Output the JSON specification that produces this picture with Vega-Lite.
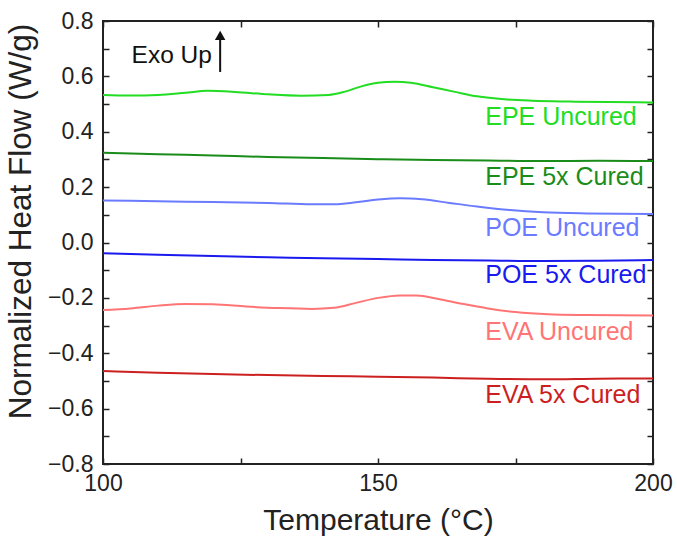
{
  "$schema": "https://vega.github.io/schema/vega-lite/v6.json",
  "width": 550,
  "height": 443,
  "autosize": "none",
  "padding": {"left": 103, "top": 21, "right": 24, "bottom": 80},
  "background": "white",
  "config": {
    "font": "Liberation Sans",
    "view": {"stroke": "#222", "strokeWidth": 2},
    "axis": {"domain": false, "grid": false, "tickColor": "#222", "tickWidth": 1.5, "labelColor": "#222", "titleColor": "#222", "labelFont": "Liberation Sans", "titleFont": "Liberation Sans", "titleFontWeight": "normal"}
  },
  "datasets": {
    "curves": [
      {"s": "EPE Uncured", "T": 100, "v": 0.533}, {"s": "EPE Uncured", "T": 105, "v": 0.531}, {"s": "EPE Uncured", "T": 110, "v": 0.533}, {"s": "EPE Uncured", "T": 115, "v": 0.541}, {"s": "EPE Uncured", "T": 119, "v": 0.548}, {"s": "EPE Uncured", "T": 124, "v": 0.544}, {"s": "EPE Uncured", "T": 130, "v": 0.535}, {"s": "EPE Uncured", "T": 136, "v": 0.530}, {"s": "EPE Uncured", "T": 141, "v": 0.533}, {"s": "EPE Uncured", "T": 144, "v": 0.545}, {"s": "EPE Uncured", "T": 147, "v": 0.564}, {"s": "EPE Uncured", "T": 150, "v": 0.577}, {"s": "EPE Uncured", "T": 153, "v": 0.581}, {"s": "EPE Uncured", "T": 156, "v": 0.577}, {"s": "EPE Uncured", "T": 160, "v": 0.561}, {"s": "EPE Uncured", "T": 164, "v": 0.544}, {"s": "EPE Uncured", "T": 168, "v": 0.528}, {"s": "EPE Uncured", "T": 173, "v": 0.517}, {"s": "EPE Uncured", "T": 178, "v": 0.512}, {"s": "EPE Uncured", "T": 185, "v": 0.509}, {"s": "EPE Uncured", "T": 192, "v": 0.507}, {"s": "EPE Uncured", "T": 200, "v": 0.506},
      {"s": "EPE 5x Cured", "T": 100, "v": 0.324}, {"s": "EPE 5x Cured", "T": 110, "v": 0.319}, {"s": "EPE 5x Cured", "T": 120, "v": 0.314}, {"s": "EPE 5x Cured", "T": 130, "v": 0.309}, {"s": "EPE 5x Cured", "T": 140, "v": 0.305}, {"s": "EPE 5x Cured", "T": 150, "v": 0.301}, {"s": "EPE 5x Cured", "T": 160, "v": 0.298}, {"s": "EPE 5x Cured", "T": 170, "v": 0.296}, {"s": "EPE 5x Cured", "T": 180, "v": 0.294}, {"s": "EPE 5x Cured", "T": 190, "v": 0.295}, {"s": "EPE 5x Cured", "T": 200, "v": 0.294},
      {"s": "POE Uncured", "T": 100, "v": 0.152}, {"s": "POE Uncured", "T": 110, "v": 0.149}, {"s": "POE Uncured", "T": 120, "v": 0.146}, {"s": "POE Uncured", "T": 130, "v": 0.143}, {"s": "POE Uncured", "T": 138, "v": 0.138}, {"s": "POE Uncured", "T": 142, "v": 0.138}, {"s": "POE Uncured", "T": 146, "v": 0.145}, {"s": "POE Uncured", "T": 150, "v": 0.155}, {"s": "POE Uncured", "T": 154, "v": 0.160}, {"s": "POE Uncured", "T": 158, "v": 0.156}, {"s": "POE Uncured", "T": 163, "v": 0.143}, {"s": "POE Uncured", "T": 168, "v": 0.130}, {"s": "POE Uncured", "T": 174, "v": 0.117}, {"s": "POE Uncured", "T": 180, "v": 0.109}, {"s": "POE Uncured", "T": 188, "v": 0.105}, {"s": "POE Uncured", "T": 200, "v": 0.103},
      {"s": "POE 5x Cured", "T": 100, "v": -0.039}, {"s": "POE 5x Cured", "T": 110, "v": -0.044}, {"s": "POE 5x Cured", "T": 120, "v": -0.049}, {"s": "POE 5x Cured", "T": 130, "v": -0.053}, {"s": "POE 5x Cured", "T": 140, "v": -0.057}, {"s": "POE 5x Cured", "T": 150, "v": -0.060}, {"s": "POE 5x Cured", "T": 160, "v": -0.063}, {"s": "POE 5x Cured", "T": 170, "v": -0.065}, {"s": "POE 5x Cured", "T": 180, "v": -0.067}, {"s": "POE 5x Cured", "T": 190, "v": -0.066}, {"s": "POE 5x Cured", "T": 200, "v": -0.063},
      {"s": "EVA Uncured", "T": 100, "v": -0.244}, {"s": "EVA Uncured", "T": 105, "v": -0.238}, {"s": "EVA Uncured", "T": 110, "v": -0.228}, {"s": "EVA Uncured", "T": 115, "v": -0.222}, {"s": "EVA Uncured", "T": 120, "v": -0.223}, {"s": "EVA Uncured", "T": 126, "v": -0.231}, {"s": "EVA Uncured", "T": 132, "v": -0.237}, {"s": "EVA Uncured", "T": 138, "v": -0.240}, {"s": "EVA Uncured", "T": 142, "v": -0.236}, {"s": "EVA Uncured", "T": 146, "v": -0.218}, {"s": "EVA Uncured", "T": 150, "v": -0.200}, {"s": "EVA Uncured", "T": 154, "v": -0.191}, {"s": "EVA Uncured", "T": 157, "v": -0.191}, {"s": "EVA Uncured", "T": 161, "v": -0.204}, {"s": "EVA Uncured", "T": 165, "v": -0.220}, {"s": "EVA Uncured", "T": 170, "v": -0.238}, {"s": "EVA Uncured", "T": 175, "v": -0.251}, {"s": "EVA Uncured", "T": 181, "v": -0.259}, {"s": "EVA Uncured", "T": 188, "v": -0.262}, {"s": "EVA Uncured", "T": 200, "v": -0.264},
      {"s": "EVA 5x Cured", "T": 100, "v": -0.464}, {"s": "EVA 5x Cured", "T": 110, "v": -0.470}, {"s": "EVA 5x Cured", "T": 120, "v": -0.475}, {"s": "EVA 5x Cured", "T": 130, "v": -0.479}, {"s": "EVA 5x Cured", "T": 140, "v": -0.482}, {"s": "EVA 5x Cured", "T": 150, "v": -0.485}, {"s": "EVA 5x Cured", "T": 160, "v": -0.488}, {"s": "EVA 5x Cured", "T": 170, "v": -0.492}, {"s": "EVA 5x Cured", "T": 180, "v": -0.494}, {"s": "EVA 5x Cured", "T": 190, "v": -0.492}, {"s": "EVA 5x Cured", "T": 200, "v": -0.491}
    ],
    "labels": [
      {"s": "EPE Uncured", "T": 169.5, "v": 0.453},
      {"s": "EPE 5x Cured", "T": 169.5, "v": 0.237},
      {"s": "POE Uncured", "T": 169.5, "v": 0.052},
      {"s": "POE 5x Cured", "T": 169.5, "v": -0.117},
      {"s": "EVA Uncured", "T": 169.5, "v": -0.323},
      {"s": "EVA 5x Cured", "T": 169.5, "v": -0.551}
    ],
    "note": [
      {"label": "Exo Up", "T": 105.2, "v": 0.674, "Ta": 121.3, "v1": 0.616, "v2": 0.74, "vh": 0.748}
    ]
  },
  "resolve": {"axis": {"x": "independent", "y": "independent"}},
  "layer": [
    {
      "data": {"name": "curves"},
      "mark": {"type": "line", "strokeWidth": 2, "interpolate": "monotone"},
      "encoding": {
        "x": {"field": "T", "type": "quantitative", "scale": {"domain": [100, 200], "nice": false, "zero": false},
          "axis": {"orient": "bottom", "values": [100, 125, 150, 175, 200], "labelExpr": "datum.value % 50 == 0 ? datum.label : ''", "tickSize": -6, "labelPadding": 14, "labelFontSize": 23, "title": "Temperature (°C)", "titleFontSize": 30, "titlePadding": 10, "labelFlush": false}},
        "y": {"field": "v", "type": "quantitative", "scale": {"domain": [-0.8, 0.8], "nice": false, "zero": false},
          "axis": {"orient": "left", "values": [-0.8, -0.7, -0.6, -0.5, -0.4, -0.3, -0.2, -0.1, 0, 0.1, 0.2, 0.3, 0.4, 0.5, 0.6, 0.7, 0.8], "labelExpr": "abs(round(datum.value*10)) % 2 == 0 ? format(datum.value, '.1f') : ''", "tickSize": -6, "labelPadding": 16, "labelFontSize": 23, "title": "Normalized Heat Flow (W/g)", "titleFontSize": 31.5, "titlePadding": 10, "titleY": 200, "labelFlush": false}},
        "color": {"field": "s", "type": "nominal", "legend": null,
          "scale": {"domain": ["EPE Uncured", "EPE 5x Cured", "POE Uncured", "POE 5x Cured", "EVA Uncured", "EVA 5x Cured"], "range": ["#22dd22", "#1a8c1a", "#6b7bff", "#1a1aee", "#ff7575", "#cc1f1f"]}}
      }
    },
    {
      "data": {"name": "labels"},
      "mark": {"type": "text", "align": "left", "baseline": "middle", "fontSize": 25, "font": "Liberation Sans"},
      "encoding": {
        "x": {"field": "T", "type": "quantitative", "axis": {"orient": "top", "values": [100, 125, 150, 175, 200], "labels": false, "tickSize": -6, "title": null}},
        "y": {"field": "v", "type": "quantitative", "axis": {"orient": "right", "values": [-0.8, -0.7, -0.6, -0.5, -0.4, -0.3, -0.2, -0.1, 0, 0.1, 0.2, 0.3, 0.4, 0.5, 0.6, 0.7, 0.8], "labels": false, "tickSize": -6, "title": null}},
        "text": {"field": "s"},
        "color": {"field": "s", "type": "nominal", "legend": null}
      }
    },
    {
      "data": {"name": "note"},
      "mark": {"type": "text", "align": "left", "baseline": "middle", "fontSize": 24.5, "font": "Liberation Sans", "color": "#111"},
      "encoding": {
        "x": {"field": "T", "type": "quantitative", "axis": null},
        "y": {"field": "v", "type": "quantitative", "axis": null},
        "text": {"field": "label"}
      }
    },
    {
      "data": {"name": "note"},
      "mark": {"type": "rule", "strokeWidth": 2, "color": "#111"},
      "encoding": {
        "x": {"field": "Ta", "type": "quantitative", "axis": null},
        "y": {"field": "v1", "type": "quantitative", "axis": null},
        "y2": {"field": "v2"}
      }
    },
    {
      "data": {"name": "note"},
      "mark": {"type": "point", "shape": "triangle-up", "filled": true, "size": 110, "color": "#111", "opacity": 1},
      "encoding": {
        "x": {"field": "Ta", "type": "quantitative", "axis": null},
        "y": {"field": "vh", "type": "quantitative", "axis": null}
      }
    }
  ]
}
